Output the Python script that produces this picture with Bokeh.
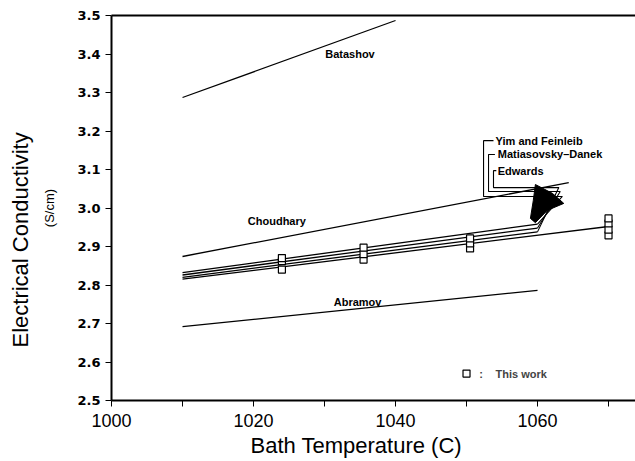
from bokeh.plotting import figure
from bokeh.models import (LinearAxis, FixedTicker, Label, Range1d, Title,
                          NumeralTickFormatter)
from bokeh.embed import file_html
from bokeh.resources import INLINE

# ---------------- data ----------------
x_ticks = [1000, 1020, 1040, 1060]
x_minor = [1010, 1030, 1050, 1070]
y_ticks = [2.5, 2.6, 2.7, 2.8, 2.9, 3.0, 3.1, 3.2, 3.3, 3.4, 3.5]

# literature correlations (start / end points)
batashov_x = [1010, 1040]
batashov_y = [3.287, 3.487]
choudhary_x = [1010, 1064.4]
choudhary_y = [2.874, 3.066]
abramov_x = [1010, 1060]
abramov_y = [2.692, 2.786]
yim_x = [1010, 1060]
yim_y = [2.832, 2.958]
matiasovsky_x = [1010, 1060]
matiasovsky_y = [2.826, 2.948]
edwards_x = [1010, 1060]
edwards_y = [2.820, 2.938]
fit_x = [1010, 1070]
fit_y = [2.815, 2.952]

# this work (measurements)
work_x = [1024, 1024, 1024, 1035.5, 1035.5, 1035.5, 1050.5, 1050.5, 1050.5,
          1070, 1070, 1070, 1070]
work_y = [2.840, 2.862, 2.870, 2.866, 2.880, 2.897, 2.895, 2.908, 2.921,
          2.929, 2.944, 2.960, 2.973]

# leader lines from the labels to the line ends
yim_lead_x = [1053.8, 1052.4, 1052.4, 1063.5, 1060.0]
yim_lead_y = [3.175, 3.175, 3.030, 3.030, 2.958]
mat_lead_x = [1054.0, 1053.1, 1053.1, 1063.2, 1060.0]
mat_lead_y = [3.139, 3.139, 3.043, 3.043, 2.948]
edw_lead_x = [1054.2, 1053.8, 1053.8, 1063.0, 1060.0]
edw_lead_y = [3.097, 3.097, 3.053, 3.053, 2.938]
arrow_x = [1059.7, 1062.1, 1063.7, 1061.4, 1059.7, 1059.0, 1059.4]
arrow_y = [3.061, 3.038, 3.012, 2.994, 2.962, 2.973, 3.019]

labels = [
    ("Batashov", 1030.1, 3.401),
    ("Yim and Feinleib", 1054.1, 3.175),
    ("Matiasovsky\u2013Danek", 1054.4, 3.139),
    ("Edwards", 1054.4, 3.097),
    ("Choudhary", 1019.2, 2.965),
    ("Abramov", 1031.3, 2.757),
]

# ---------------- figure ----------------
p = figure(width=635, height=461, x_range=Range1d(1000, 1073.8),
           y_range=Range1d(2.5, 3.5), output_backend="svg",
           toolbar_location=None, min_border_left=111, min_border_right=0,
           min_border_top=15, min_border_bottom=61)
p.grid.visible = False
p.outline_line_color = None
p.background_fill_color = "white"
p.border_fill_color = "white"

xa = p.xaxis[0]
xa.ticker = FixedTicker(ticks=x_ticks, minor_ticks=x_minor)
xa.axis_line_width = 2
xa.major_tick_in = 0
xa.major_tick_out = 6
xa.minor_tick_in = 0
xa.minor_tick_out = 6
xa.major_label_standoff = 7
xa.major_label_text_font = "Liberation Sans"
xa.major_label_text_font_size = "18px"
xa.major_label_text_color = "black"

ya = p.yaxis[0]
ya.ticker = FixedTicker(ticks=y_ticks)
ya.formatter = NumeralTickFormatter(format="0.0")
ya.axis_line_width = 2
ya.major_tick_in = 0
ya.major_tick_out = 6
ya.minor_tick_line_color = None
ya.major_label_standoff = 5
ya.major_label_text_font = "DejaVu Sans"
ya.major_label_text_font_style = "bold"
ya.major_label_text_font_size = "13px"
ya.major_label_text_color = "black"
ya.axis_label = "(S/cm)"
ya.axis_label_text_font = "Liberation Sans"
ya.axis_label_text_font_style = "normal"
ya.axis_label_text_font_size = "13px"
ya.axis_label_text_color = "black"
ya.axis_label_standoff = 17

top = LinearAxis(ticker=FixedTicker(ticks=[]), axis_line_width=2,
                 major_tick_out=0, major_tick_in=0, minor_tick_out=0,
                 minor_tick_in=0, major_label_standoff=0)
p.add_layout(top, "above")

p.add_layout(Title(text="Electrical Conductivity", align="left", offset=53,
                   text_font="Liberation Sans", text_font_style="normal",
                   text_font_size="22px", vertical_align="middle",
                   text_color="black", standoff=12), "left")
p.add_layout(Title(text="Bath Temperature (C)", align="left", offset=139,
                   text_font="Liberation Sans", text_font_style="normal",
                   text_font_size="22px", vertical_align="bottom",
                   text_color="black", standoff=2), "below")

lw = 1.3
for xs, ys in [(batashov_x, batashov_y), (choudhary_x, choudhary_y),
               (abramov_x, abramov_y), (yim_x, yim_y),
               (matiasovsky_x, matiasovsky_y), (edwards_x, edwards_y),
               (fit_x, fit_y)]:
    p.line(xs, ys, line_color="black", line_width=lw)

for xs, ys in [(yim_lead_x, yim_lead_y), (mat_lead_x, mat_lead_y),
               (edw_lead_x, edw_lead_y)]:
    p.line(xs, ys, line_color="black", line_width=1.1)

p.patch(arrow_x, arrow_y, fill_color="black", line_color="black")

p.scatter(work_x, work_y, marker="square", size=7, fill_color="white",
          line_color="black", line_width=1.2)

for txt, lx, ly in labels:
    p.add_layout(Label(x=lx, y=ly, text=txt, text_font="Liberation Sans",
                       text_font_style="bold", text_font_size="11px",
                       text_baseline="middle", text_align="left",
                       text_color="black"))

# legend
p.scatter([1050], [2.570], marker="square", size=7, fill_color="white",
          line_color="black", line_width=1.2)
p.add_layout(Label(x=1051.8, y=2.570, text=":", text_font="Liberation Sans",
                   text_font_style="bold", text_font_size="11px",
                   text_baseline="middle", text_align="left"))
p.add_layout(Label(x=1054.1, y=2.570, text="This work", text_font="Liberation Sans",
                   text_font_style="bold", text_font_size="11px",
                   text_baseline="middle", text_align="left"))

open("out.html", "w").write(file_html(p, INLINE))
